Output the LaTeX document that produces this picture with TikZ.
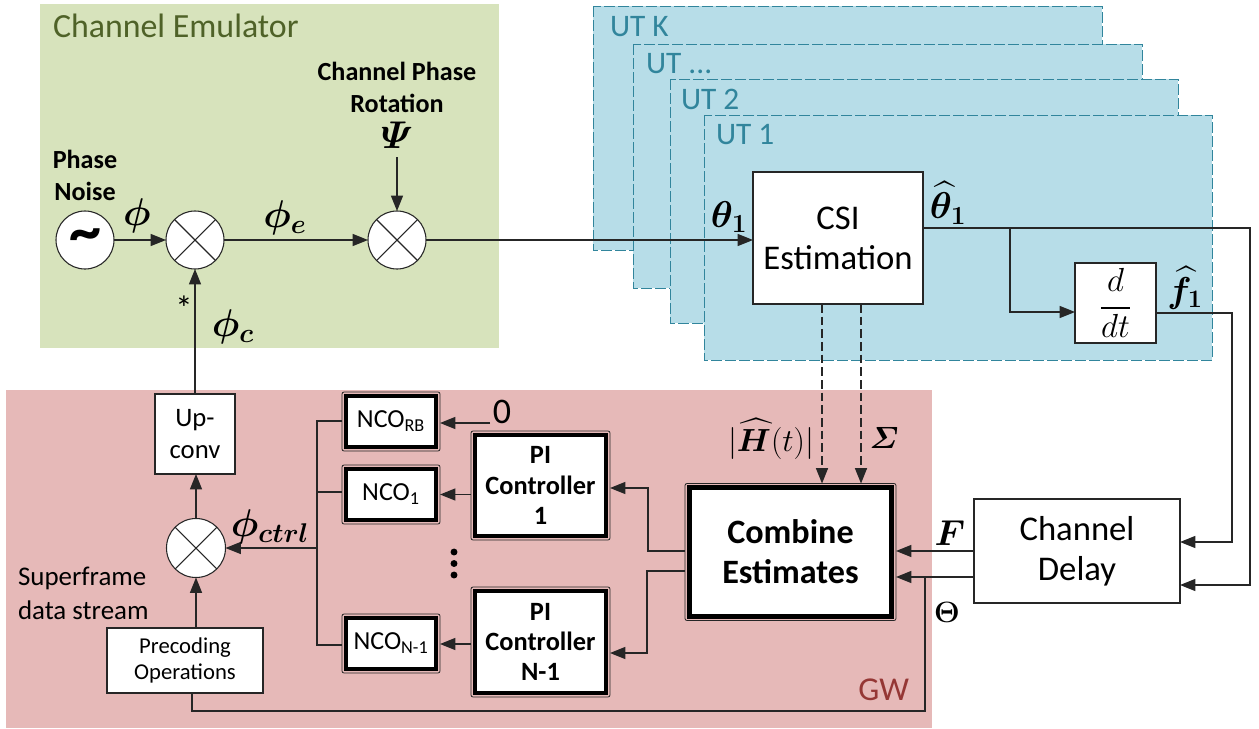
\RequirePackage{fix-cm}
\documentclass[tikz,border=0pt]{standalone}
\usepackage{amsmath,amssymb}
\usepackage{fontspec}
\setmainfont{Carlito}
\usetikzlibrary{arrows.meta,calc}
\definecolor{greenbg}{HTML}{D7E3BC}
\definecolor{greentx}{HTML}{4F6228}
\definecolor{bluebg}{HTML}{B7DDE8}
\definecolor{bluetx}{HTML}{31859C}
\definecolor{redbg}{HTML}{E6B9B8}
\definecolor{redtx}{HTML}{953735}
\newcommand{\fs}[1]{\fontsize{#1}{#1}\selectfont}
\newcommand{\bsym}[1]{\boldsymbol{#1}}
\tikzset{
  regionut/.style={fill=bluebg,draw=bluetx,dash pattern=on 8pt off 2.5pt,line width=0.7pt},
  wd/.style={minimum width=#1*0.75pt},
  ht/.style={minimum height=#1*0.75pt},
  plainbox/.style={draw=black!85,fill=white,line width=0.9pt,inner sep=0pt,outer sep=0pt,align=center},
  tripleb/.style={draw=black!85,fill=redbg,line width=0.6pt,rounded corners=1.5pt,inner sep=0pt,outer sep=0pt,align=center,
    path picture={\draw[black,fill=white,line width=#1*0.75pt,sharp corners]
      ([shift={(#1*0.375pt+1.3pt,-#1*0.375pt-1.3pt)}]path picture bounding box.north west) rectangle
      ([shift={(-#1*0.375pt-1.3pt,#1*0.375pt+1.3pt)}]path picture bounding box.south east);}},
  mixer/.style={circle,draw=black!85,fill=white,line width=0.8pt,inner sep=0pt,outer sep=0pt,minimum size=#1*0.75pt,
    path picture={\draw[black!85,line width=0.8pt]
      (path picture bounding box.north west)--(path picture bounding box.south east)
      (path picture bounding box.north east)--(path picture bounding box.south west);}},
  wire/.style={draw=black!85,line width=0.95pt},
  arr/.style={wire,-{Triangle[length=11.5pt,width=9pt]}},
  dwire/.style={arr,dash pattern=on 6.5pt off 3pt},
  lab/.style={inner sep=0pt,outer sep=0pt,align=center},
  x=0.75pt,y=-0.75pt
}
\begin{document}
\begin{tikzpicture}
\useasboundingbox (0,0) rectangle (1259,728);
% regions
\fill[greenbg] (40,4) rectangle (499,348);
\fill[redbg] (6,390) rectangle (932,728);
\path[regionut] (593,6) rectangle (1102,250);
\path[regionut] (633,44) rectangle (1142,288);
\path[regionut] (670,79) rectangle (1178,323);
\path[regionut] (704,115) rectangle (1212,360);
% region labels
\node[lab,anchor=west,text=greentx,font=\fs{25.4}] (lce) at (53,26) {Channel Emulator};
\node[lab,anchor=west,text=bluetx,font=\fs{23.5}] (lutk) at (610,27) {UT K};
\node[lab,anchor=west,text=bluetx,font=\fs{23.5}] (lutd) at (646,64) {UT ...};
\node[lab,anchor=west,text=bluetx,font=\fs{23.5}] (lut2) at (681,99) {UT 2};
\node[lab,anchor=west,text=bluetx,font=\fs{23.5}] (lut1) at (716,135) {UT 1};
\node[lab,anchor=east,text=redtx,font=\fs{25}] (lgw) at (909,690) {GW};
% blocks
\node[circle,draw=black!85,fill=white,line width=0.8pt,inner sep=0pt,outer sep=0pt,minimum size=43.5pt] (osc) at (85,240) {};
\node[lab] (tilde) at (85,241) {\bfseries\fs{48}\textasciitilde};
\node[mixer=58] (m1) at (195,240) {};
\node[mixer=58] (m2) at (397,240) {};
\node[mixer=59] (m3) at (196,548) {};
\node[plainbox,wd=170,ht=132,font=\fs{26}] (csi) at (838,238) {CSI\\[4pt]Estimation};
\node[plainbox,wd=81,ht=80,font=\fs{25}] (ddt) at (1115.5,303) {$d$\\[-12pt]\rule{22pt}{1.2pt}\\[-3pt]$dt$};
\node[plainbox,wd=206,ht=104,font=\fs{26}] (delay) at (1077,551) {Channel\\[4pt]Delay};
\node[tripleb=5,wd=211,ht=137,font=\bfseries\fs{25.6}] (comb) at (790.5,552) {Combine\\[4.4pt]Estimates};
\node[tripleb=4,wd=139,ht=109,font=\bfseries\fs{19.8}] (pi1) at (540.5,485.5) {PI\\[3pt]Controller\\[3pt]1};
\node[tripleb=4,wd=139,ht=110,font=\bfseries\fs{19.8}] (pin) at (540.5,642) {PI\\[3pt]Controller\\[3pt]N-1};
\node[tripleb=4,wd=98,ht=59,font=\fs{19.5}] (ncorb) at (391,421.5) {NCO\textsubscript{RB}};
\node[tripleb=4,wd=98,ht=59,font=\fs{19.5}] (nco1) at (391,494.5) {NCO\textsubscript{1}};
\node[tripleb=4,wd=98,ht=59,font=\fs{19.5}] (ncon) at (391,643.5) {NCO\textsubscript{N-1}};
\node[plainbox,wd=80,ht=80,font=\fs{20}] (up) at (195,434) {Up-\\[4.5pt]conv};
\node[plainbox,wd=156,ht=65,font=\fs{17}] (pre) at (185,660.5) {Precoding\\[3pt]Operations};
% free ends
\coordinate (psi) at (397,157);
\coordinate (zero) at (490,423);
\coordinate (busT) at (317,421);
\coordinate (busB) at (317,645);
\coordinate (tap) at (1010,228);
\coordinate (sw1) at (1250,228);
\coordinate (sw2) at (1232,313);
\coordinate (dlo) at (1180,585);
\coordinate (loopA) at (192,711);
\coordinate (loopB) at (925,711);
\coordinate (loopC) at (925,577);
% connectors
\draw[arr] (osc) -- (m1);
\draw[arr] (m1) -- (m2);
\draw[arr] (psi) -- (m2);
\draw[arr] (m2) -- (csi.west |- m2);
\draw[arr] (up.north -| m1) -- (m1);
\draw[arr] (m3) -- (up.south -| m3);
\draw[arr] (pre.north -| m3) -- (m3);
\draw[arr] (csi.east |- sw1) -- (sw1) |- (delay.east |- dlo);
\draw[arr] (tap) |- (ddt.west |- 0,312);
\draw[arr] (ddt.east |- sw2) -- (sw2) |- (delay.east |- 0,542);
\draw[dwire] (csi.south -| 822,0) -- (comb.north -| 822,0);
\draw[dwire] (csi.south -| 861,0) -- (comb.north -| 861,0);
\draw[arr] (delay.west |- 0,551) -- (comb.east |- 0,551);
\draw[arr] (delay.west |- loopC) -- (comb.east |- loopC);
\draw[wire] (pre.south -| loopA) -- (loopA) -- (loopB) -- (loopC);
\draw[arr] (comb.west |- 0,551) -| (648,488) -- (pi1.east |- 0,488);
\draw[arr] (comb.west |- 0,571) -| (647,653) -- (pin.east |- 0,653);
\draw[arr] (pi1.west |- nco1) -- (nco1.east);
\draw[arr] (pin.west |- 0,644) -- (ncon.east |- 0,644);
\draw[arr] (zero) -- (ncorb.east |- zero);
\draw[wire] (ncorb.west |- busT) -- (busT) -- (busB) -- (ncon.west |- busB);
\draw[wire] (busT |- 0,492) -- (nco1.west |- 0,492);
\draw[arr] (busT |- m3) -- (m3);
% labels
\node[lab,font=\bfseries\fs{19.6}] (lpn) at (85,175) {Phase\\[4.4pt]Noise};
\node[lab,font=\bfseries\fs{19.6}] (lcpr) at (397,87) {Channel Phase\\[4.4pt]Rotation};
\node[lab] (lpsi) at (397,135) {\fs{29}$\bsym{\varPsi}$};
\node[lab] (lphi) at (137,216) {\fs{29}$\bsym{\phi}$};
\node[lab] (lphie) at (285,218) {\fs{29}$\bsym{\phi_{e}}$};
\node[lab] (lphic) at (233,327) {\fs{29}$\bsym{\phi_{c}}$};
\node[lab,font=\fs{26}] (lstar) at (184,308) {*};
\node[lab] (lphictl) at (270,527) {\fs{29}$\bsym{\phi_{ctrl}}$};
\node[lab] (lth) at (729,217) {\fs{28}$\bsym{\theta_{1}}$};
\node[lab] (lthh) at (948,203) {\fs{28}$\bsym{\widehat{\theta}_{1}}$};
\node[lab] (lfh) at (1185,288) {\fs{27}$\bsym{\widehat{f}_{1}}$};
\node[lab] (lh) at (771,439) {\fs{24}$|\bsym{\widehat{H}}(t)|$};
\node[lab] (lsig) at (884,438) {\fs{23}$\bsym{\varSigma}$};
\node[lab] (lf) at (950,533) {\fs{27}$\bsym{F}$};
\node[lab] (lthe) at (947,612) {\fs{22}$\bsym{\Theta}$};
\node[lab,font=\fs{27}] (lzero) at (502,412) {0};
\node[lab,anchor=west,font=\fs{20.2}] (lsf) at (18,578) {Superframe};
\node[lab,anchor=west,font=\fs{20.2}] (lds) at (18,610) {data stream};
\fill[black] (454,552) circle (2.6pt) (454,563.5) circle (2.6pt) (454,575) circle (2.6pt);
\end{tikzpicture}
\end{document}
